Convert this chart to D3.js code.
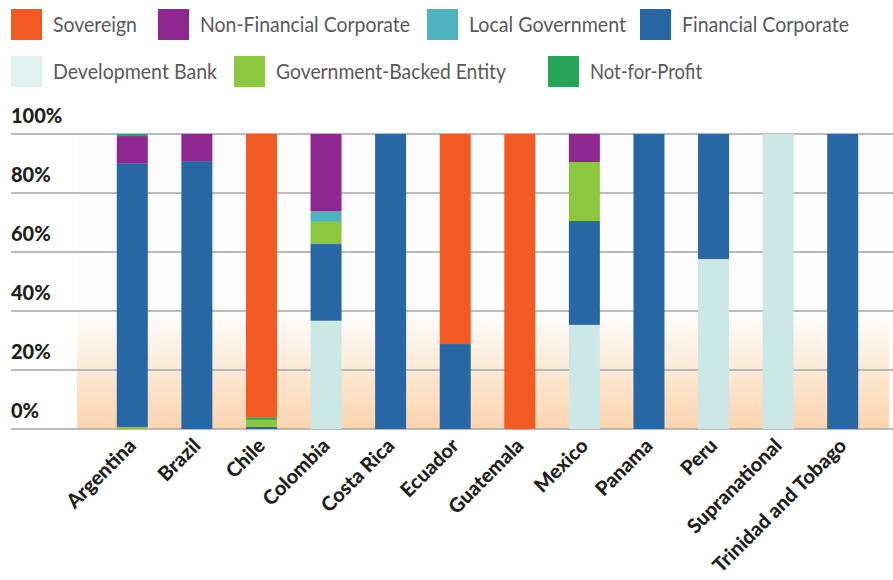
<!DOCTYPE html>
<html>
<head>
<meta charset="utf-8">
<script src="https://cdn.jsdelivr.net/npm/d3@7"></script>
<style>
  html, body { margin: 0; padding: 0; background: #ffffff; }
  svg { display: block; }
</style>
</head>
<body>
<div id="chart"></div>
<script>
// ---------- data ----------
const categories = ["Argentina","Brazil","Chile","Colombia","Costa Rica","Ecuador","Guatemala","Mexico","Panama","Peru","Supranational","Trinidad and Tobago"];
const seriesNames = ["Sovereign","Non-Financial Corporate","Local Government","Financial Corporate","Development Bank","Government-Backed Entity","Not-for-Profit"];
const sovereign     = [0,   0,    96.2, 0,    0,   71.2, 100, 0,    0,   0,    0,   0];
const nonFinancial  = [9.4, 9.2,  0,    26.1, 0,   0,    0,   9.5,  0,   0,    0,   0];
const localGov      = [0,   0,    0,    3.7,  0,   0,    0,   0,    0,   0,    0,   0];
const financial     = [89.2,90.8, 0.7,  26.0, 100, 28.8, 0,   35.2, 100, 42.4, 0,   100];
const devBank       = [0,   0,    0,    36.7, 0,   0,    0,   35.3, 0,   57.6, 100, 0];
const govBacked     = [0.7, 0,    2.4,  7.5,  0,   0,    0,   20.0, 0,   0,    0,   0];
const notForProfit  = [0.7, 0,    0.7,  0,    0,   0,    0,   0,    0,   0,    0,   0];
const yTicks = [0, 20, 40, 60, 80, 100];

// stacking order, bottom -> top (Argentina's bar is stacked differently in the source)
const stackOrder = ["Development Bank","Financial Corporate","Government-Backed Entity","Local Government","Not-for-Profit","Non-Financial Corporate","Sovereign"];
const stackOrderOverride = { "Argentina": ["Government-Backed Entity","Development Bank","Financial Corporate","Local Government","Non-Financial Corporate","Not-for-Profit","Sovereign"] };

// ---------- styles ----------
const colors = {
  "Sovereign": "#f15a22",
  "Non-Financial Corporate": "#8e278f",
  "Local Government": "#4fb3bf",
  "Financial Corporate": "#2767a3",
  "Development Bank": "#cbe8e6",
  "Government-Backed Entity": "#8dc63f",
  "Not-for-Profit": "#27a558"
};
const legendSwatchColors = Object.assign({}, colors, { "Development Bank": "#e0f1f0" });

const valuesBySeries = {
  "Sovereign": sovereign,
  "Non-Financial Corporate": nonFinancial,
  "Local Government": localGov,
  "Financial Corporate": financial,
  "Development Bank": devBank,
  "Government-Backed Entity": govBacked,
  "Not-for-Profit": notForProfit
};

const rows = categories.map((c, i) => {
  const r = { category: c };
  seriesNames.forEach(s => r[s] = valuesBySeries[s][i]);
  return r;
});

const W = 893, H = 580;
const svg = d3.select("#chart").append("svg").attr("width", W).attr("height", H);

const y = d3.scaleLinear().domain([0, 100]).range([429, 134]);
const x = d3.scaleBand().domain(categories).range([100, 875]).paddingInner(0.52).paddingOuter(0.26);

// background gradient
const defs = svg.append("defs");
const grad = defs.append("linearGradient").attr("id", "bgGrad")
  .attr("gradientUnits", "userSpaceOnUse")
  .attr("x1", 0).attr("x2", 0).attr("y1", y(40)).attr("y2", y(0));
grad.append("stop").attr("offset", "0%").attr("stop-color", "#fdfdfd");
grad.append("stop").attr("offset", "100%").attr("stop-color", "#fcd4ad");

svg.append("rect")
  .attr("x", 77).attr("y", y(100))
  .attr("width", 889 - 77).attr("height", y(0) - y(100))
  .attr("fill", "url(#bgGrad)");

// gridlines
svg.append("g").selectAll("line").data(yTicks).join("line")
  .attr("x1", 11).attr("x2", W)
  .attr("y1", d => y(d)).attr("y2", d => y(d))
  .attr("stroke", "#a4a3ac").attr("stroke-width", 1.5);

// y labels
svg.append("g").selectAll("text").data(yTicks).join("text")
  .attr("x", 11).attr("y", d => y(d) - 11)
  .attr("font-family", "Lato, 'Open Sans', sans-serif")
  .attr("font-weight", 900)
  .attr("font-size", 20)
  .attr("fill", "#231f20")
  .text(d => d + "%");

// bars
const barG = svg.append("g");
rows.forEach(row => {
  const order = stackOrderOverride[row.category] || stackOrder;
  const stacked = d3.stack().keys(order)([row]);
  barG.selectAll(null).data(stacked.filter(s => s[0][1] - s[0][0] > 0)).join("rect")
    .attr("x", x(row.category))
    .attr("width", x.bandwidth())
    .attr("y", s => y(s[0][1]))
    .attr("height", s => y(s[0][0]) - y(s[0][1]))
    .attr("fill", s => colors[s.key]);
});

// x labels
svg.append("g").selectAll("text").data(categories).join("text")
  .attr("transform", d => `translate(${x(d) + x.bandwidth() / 2 + 5},${447}) rotate(-45)`)
  .attr("text-anchor", "end")
  .attr("font-family", "Lato, 'Open Sans', sans-serif")
  .attr("font-weight", 900)
  .attr("font-size", 20)
  .attr("fill", "#231f20")
  .text(d => d);

// legend
const legendLayout = [
  { x: 11, y: 9, w: 84 }, { x: 158, y: 9, w: 210 }, { x: 427, y: 9, w: 157 }, { x: 640, y: 9, w: 167 },
  { x: 11, y: 56, w: 164 }, { x: 234, y: 56, w: 230 }, { x: 548, y: 56, w: 112 }
];
const lg = svg.append("g");
seriesNames.forEach((s, i) => {
  const L = legendLayout[i];
  lg.append("rect").attr("x", L.x).attr("y", L.y).attr("width", 31).attr("height", 31)
    .attr("fill", legendSwatchColors[s]);
  lg.append("text").attr("x", L.x + 42).attr("y", L.y + 23)
    .attr("font-family", "Lato, 'Open Sans', sans-serif")
    .attr("font-weight", 400)
    .attr("font-size", 21)
    .attr("fill", "#58595b")
    .attr("textLength", L.w)
    .attr("lengthAdjust", "spacingAndGlyphs")
    .text(s);
});
</script>
</body>
</html>
